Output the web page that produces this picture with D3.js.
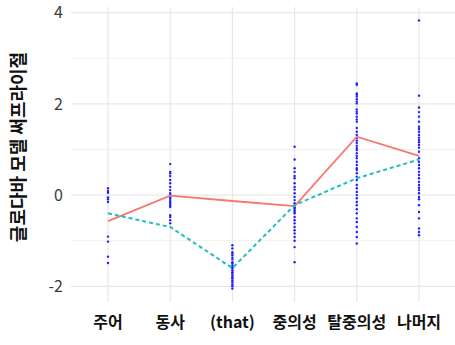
<!DOCTYPE html>
<html>
<head>
<meta charset="utf-8">
<script src="https://cdn.jsdelivr.net/npm/d3@7"></script>
<style>
  html, body { margin: 0; padding: 0; background: #fff; }
  svg { display: block; }
  text { font-family: "Noto Sans CJK KR", "Noto Sans", "DejaVu Sans", sans-serif; }
</style>
</head>
<body>
<svg id="chart" width="455" height="345"></svg>
<script>
// Word positions along the x axis
const categories = ["주어", "동사", "(that)", "중의성", "탈중의성", "나머지"];

// Per-item surprisal values for each position
const pointsSubject = [0.15, 0.09, 0.05, -0.05, -0.09, -0.15, -0.91, -1.02, -1.35, -1.49];
const pointsVerb = [0.68, 0.51, 0.48, 0.42, 0.33, 0.26, 0.18, 0.11, 0.04, 0, -0.04, -0.07, -0.11,
  -0.15, -0.18, -0.22, -0.26, -0.44, -0.48, -0.55, -0.62];
const pointsThat = [-1.10, -1.17, -1.25, -1.28, -1.32, -1.37, -1.41, -1.47, -1.50, -1.54, -1.58,
  -1.61, -1.65, -1.69, -1.72, -1.76, -1.80, -1.83, -1.87, -1.91, -1.96, -2.00, -2.05];
const pointsAmbiguous = [1.06, 0.78, 0.59, 0.51, 0.42, 0.37, 0.26, 0.18, 0.12, 0.04, -0.04, -0.11,
  -0.18, -0.22, -0.26, -0.29, -0.33, -0.37, -0.40, -0.48, -0.55, -0.62, -0.70, -0.77, -0.84,
  -0.92, -1.00, -1.14, -1.47];
const pointsDisambiguating = [2.45, 2.42, 2.23, 2.20, 2.16, 2.10, 2.05, 2.01, 1.88, 1.83, 1.79,
  1.72, 1.66, 1.61, 1.47, 1.39, 1.32, 1.25, 1.19, 1.14, 1.08, 1.03, 0.99, 0.92, 0.86, 0.81, 0.73,
  0.66, 0.59, 0.55, 0.48, 0.40, 0.33, 0.22, 0.15, 0.07, 0, -0.07, -0.15, -0.22, -0.31, -0.40,
  -0.51, -0.59, -0.70, -0.81, -0.92, -1.06];
const pointsRest = [3.83, 2.18, 1.92, 1.82, 1.72, 1.61, 1.50, 1.45, 1.39, 1.32, 1.26, 1.21, 1.16,
  1.10, 1.04, 0.95, 0.81, 0.73, 0.66, 0.59, 0.51, 0.44, 0.37, 0.29, 0.22, 0.16, 0.11, 0.04,
  -0.04, -0.09, -0.22, -0.37, -0.51, -0.73, -0.81, -0.88];

// Mean curves for the two conditions
const lineSolid = [-0.57, -0.01, -0.13, -0.24, 1.28, 0.86];
const lineDashed = [-0.40, -0.70, -1.60, -0.22, 0.37, 0.78];

const yTicks = [-2, 0, 2, 4];
const yMinor = [-1, 1, 3];
const yTitle = "글로다바 모델 써프라이절";

const pointGroups = [pointsSubject, pointsVerb, pointsThat, pointsAmbiguous, pointsDisambiguating, pointsRest];

const svg = d3.select("#chart");
const panel = { left: 71, right: 456, top: 7, bottom: 302 };

const x = d3.scalePoint()
  .domain(categories)
  .range([108, 419]);

const allVals = pointGroups.flat().concat(lineSolid, lineDashed);
const [lo, hi] = d3.extent(allVals);
const pad = (hi - lo) * 0.05;
const y = d3.scaleLinear()
  .domain([lo - pad, hi + pad])
  .range([panel.bottom, panel.top]);

// grid
const grid = svg.append("g");
grid.selectAll("line.minor").data(yMinor).join("line")
  .attr("x1", panel.left).attr("x2", panel.right)
  .attr("y1", d => y(d)).attr("y2", d => y(d))
  .attr("stroke", "#f1f1f1").attr("stroke-width", 1);
grid.selectAll("line.major").data(yTicks).join("line")
  .attr("x1", panel.left).attr("x2", panel.right)
  .attr("y1", d => y(d)).attr("y2", d => y(d))
  .attr("stroke", "#e8e8e8").attr("stroke-width", 1.2);
grid.selectAll("line.vert").data(categories).join("line")
  .attr("x1", d => x(d)).attr("x2", d => x(d))
  .attr("y1", panel.top).attr("y2", panel.bottom)
  .attr("stroke", "#e8e8e8").attr("stroke-width", 1.2);

// points
const pts = categories.flatMap((c, i) => pointGroups[i].map(v => ({ c, v })));
svg.append("g").selectAll("circle").data(pts).join("circle")
  .attr("cx", d => x(d.c))
  .attr("cy", d => y(d.v))
  .attr("r", 1.2)
  .attr("fill", "#1f1fff");

// mean lines
const line = d3.line()
  .x((d, i) => x(categories[i]))
  .y(d => y(d));

svg.append("path")
  .datum(lineSolid)
  .attr("d", line)
  .attr("fill", "none")
  .attr("stroke", "#F8766D")
  .attr("stroke-width", 1.8);

svg.append("path")
  .datum(lineDashed)
  .attr("d", line)
  .attr("fill", "none")
  .attr("stroke", "#1EBFBF")
  .attr("stroke-width", 2)
  .attr("stroke-dasharray", "4,3");

// y axis labels
svg.append("g").selectAll("text").data(yTicks).join("text")
  .attr("x", 63)
  .attr("y", d => y(d))
  .attr("dy", "0.36em")
  .attr("text-anchor", "end")
  .attr("font-size", 16)
  .attr("fill", "#3a3a3a")
  .text(d => d);

// x axis labels
svg.append("g").selectAll("text").data(categories).join("text")
  .attr("x", d => x(d))
  .attr("y", 322)
  .attr("dy", "0.36em")
  .attr("text-anchor", "middle")
  .attr("font-size", 16)
  .attr("font-weight", "bold")
  .attr("fill", "#111")
  .text(d => d);

// y axis title
svg.append("text")
  .attr("transform", "translate(19,147) rotate(-90)")
  .attr("text-anchor", "middle")
  .attr("dy", "0.36em")
  .attr("font-size", 18)
  .attr("font-weight", "bold")
  .attr("fill", "#111")
  .text(yTitle);
</script>
</body>
</html>
